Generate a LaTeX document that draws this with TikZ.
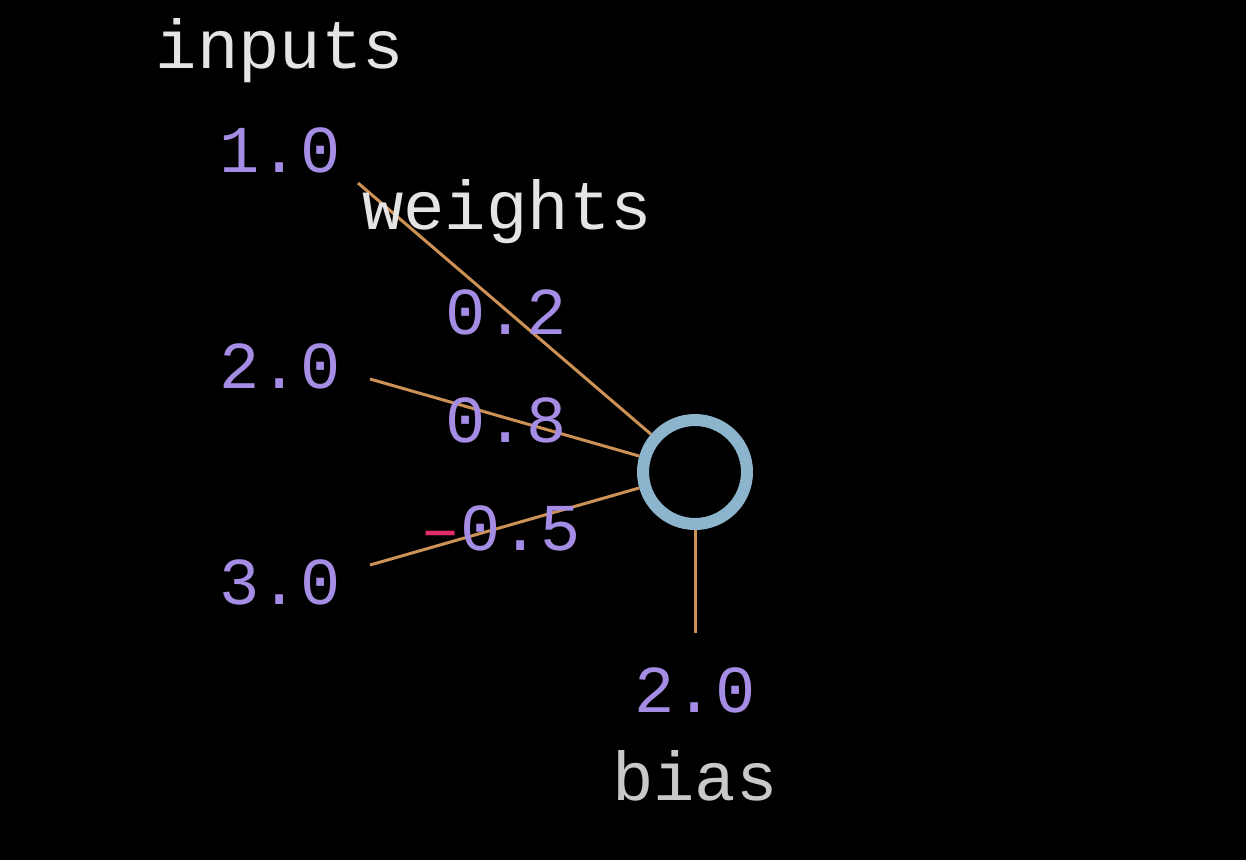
\documentclass[tikz,border=0pt]{standalone}
\usepackage{fontspec}
\setmonofont{Liberation Mono}
\definecolor{numcol}{RGB}{165,140,228}
\definecolor{labcol}{RGB}{228,228,228}
\definecolor{biascol}{RGB}{200,200,200}
\definecolor{wirecol}{RGB}{205,145,85}
\definecolor{ringcol}{RGB}{140,180,205}
\definecolor{minuscol}{RGB}{225,45,105}
\begin{document}
\begin{tikzpicture}[x=1pt,y=-1pt,
  lab/.style={font=\ttfamily\fontsize{69}{69}\selectfont,text=labcol,inner sep=0pt},
  num/.style={font=\ttfamily\fontsize{67}{67}\selectfont,text=numcol,inner sep=0pt},
  wire/.style={draw=wirecol,line width=3pt},
  neuron/.style={circle,draw=ringcol,line width=12pt,minimum size=104pt,inner sep=0pt}]
\fill[black] (0,0) rectangle (1246,860);
\useasboundingbox (0,0) rectangle (1246,860);
\node[lab,anchor=base] (inputs) at (280,68) {inputs};
\node[num] (in1) at (280,150) {1.0};
\node[num] (in2) at (280,366) {2.0};
\node[num] (in3) at (280,582) {3.0};
\node[neuron] (n) at (695,472) {};
\coordinate (s1) at (358,183);
\coordinate (s2) at (370,379);
\coordinate (s3) at (370,565);
\coordinate (bend) at (695,633);
\draw[wire] (s1) -- (n);
\draw[wire] (s2) -- (n);
\draw[wire] (s3) -- (n);
\draw[wire] (n) -- (bend);
\node[lab,anchor=base] (weights) at (507,229) {weights};
\node[num] (w1) at (506,312) {0.2};
\node[num] (w2) at (506,420) {0.8};
\node[num,anchor=west] (w3) at (420,528) {\textcolor{minuscol}{\textendash}0.5};
\node[num] (b) at (695,690) {2.0};
\node[lab,anchor=base,text=biascol] (bias) at (695,800) {bias};
\end{tikzpicture}
\end{document}
